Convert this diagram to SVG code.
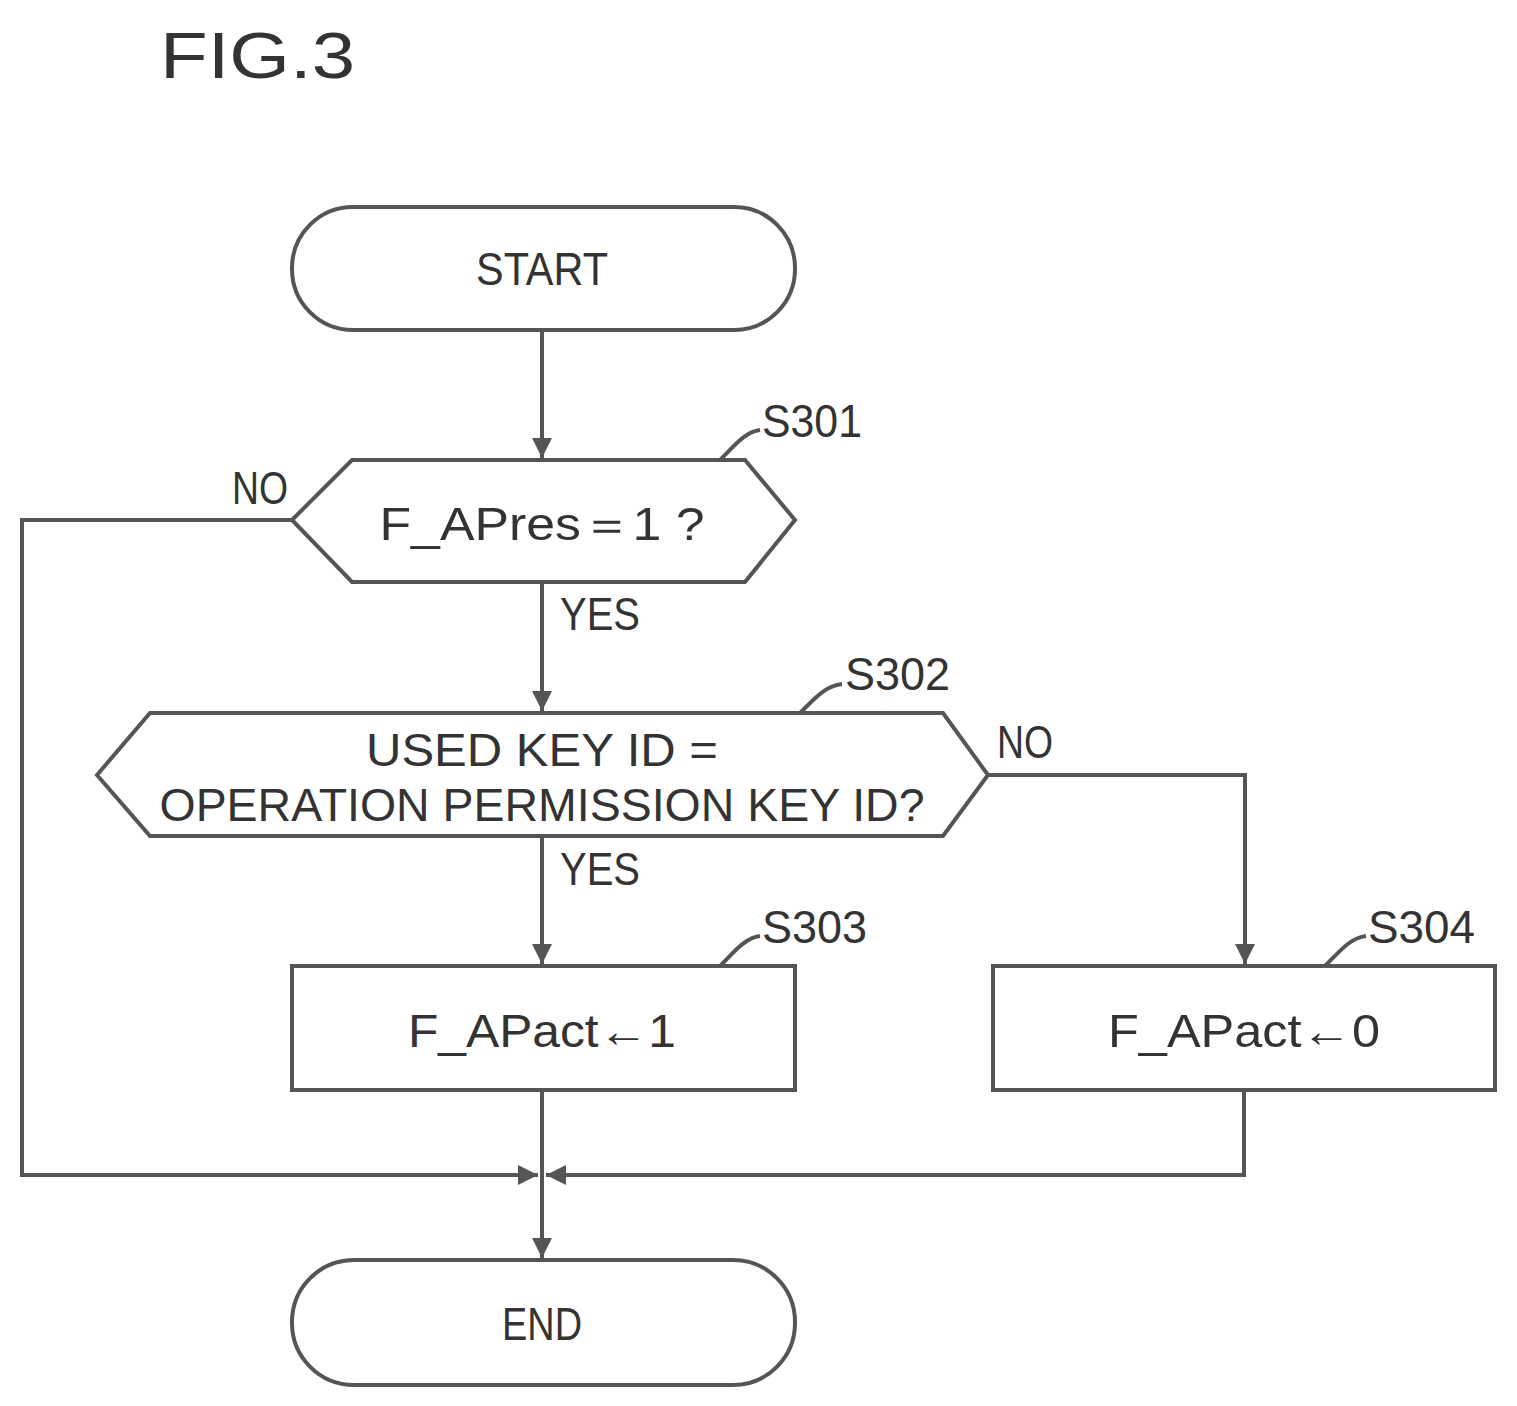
<svg xmlns="http://www.w3.org/2000/svg" width="1517" height="1406" viewBox="0 0 1517 1406">
<style>
.s{fill:#fff;stroke:#555;stroke-width:4}
.c{fill:none;stroke:#555;stroke-width:4}
text{font-family:"Liberation Sans",Arial,sans-serif;font-size:46px;fill:#333}
.m{text-anchor:middle}
</style>
<defs>
<marker id="a" viewBox="0 0 10 10" refX="10" refY="5" markerWidth="5" markerHeight="5" orient="auto" markerUnits="strokeWidth"><path d="M0,0L10,5L0,10z" fill="#555"/></marker>
</defs>
<rect width="1517" height="1406" fill="#fff"/>
<text x="160" y="78" style="font-size:64px" textLength="195" lengthAdjust="spacingAndGlyphs">FIG.3</text>
<g id="connectors">
<path class="c" d="M542,330V458" marker-end="url(#a)"/>
<path class="c" d="M542,582V711" marker-end="url(#a)"/>
<path class="c" d="M542,836V964" marker-end="url(#a)"/>
<path class="c" d="M988,775H1245V964" marker-end="url(#a)"/>
<path class="c" d="M292,520H22V1175H538" marker-end="url(#a)"/>
<path class="c" d="M1244,1090V1175H546" marker-end="url(#a)"/>
<path class="c" d="M542,1090V1258" marker-end="url(#a)"/>
<path class="c" d="M720,460C735,445 745,432 760,430"/>
<path class="c" d="M800,713C815,698 825,686 842,684"/>
<path class="c" d="M720,966C735,951 745,938 760,936"/>
<path class="c" d="M1325,966C1340,951 1350,938 1366,936"/>
</g>
<g id="start"><rect class="s" x="292" y="207" width="503" height="123" rx="61"/><text class="m" x="542" y="285" textLength="132" lengthAdjust="spacingAndGlyphs">START</text></g>
<g id="s301"><polygon class="s" points="292,520 352,460 745,460 795,520 745,582 352,582"/><text class="m" x="542" y="540" textLength="325" lengthAdjust="spacingAndGlyphs">F_APres＝1 ?</text>
<text x="762" y="437" textLength="100" lengthAdjust="spacingAndGlyphs">S301</text></g>
<text x="232" y="504" textLength="56" lengthAdjust="spacingAndGlyphs">NO</text>
<text x="560" y="630" textLength="80" lengthAdjust="spacingAndGlyphs">YES</text>
<g id="s302"><polygon class="s" points="97,775 150,713 943,713 988,775 943,836 150,836"/>
<text class="m" x="542" y="766" textLength="352" lengthAdjust="spacingAndGlyphs">USED KEY ID =</text>
<text class="m" x="542" y="821" textLength="765" lengthAdjust="spacingAndGlyphs">OPERATION PERMISSION KEY ID?</text>
<text x="845" y="690" textLength="105" lengthAdjust="spacingAndGlyphs">S302</text></g>
<text x="997" y="758" textLength="56" lengthAdjust="spacingAndGlyphs">NO</text>
<text x="560" y="885" textLength="80" lengthAdjust="spacingAndGlyphs">YES</text>
<g id="s303"><rect class="s" x="292" y="966" width="503" height="124"/><text class="m" x="542" y="1047" textLength="268" lengthAdjust="spacingAndGlyphs">F_APact←1</text>
<text x="762" y="943" textLength="105" lengthAdjust="spacingAndGlyphs">S303</text></g>
<g id="s304"><rect class="s" x="993" y="966" width="502" height="124"/><text class="m" x="1244" y="1047" textLength="272" lengthAdjust="spacingAndGlyphs">F_APact←0</text>
<text x="1368" y="943" textLength="107" lengthAdjust="spacingAndGlyphs">S304</text></g>
<g id="end"><rect class="s" x="292" y="1260" width="503" height="125" rx="62"/><text class="m" x="542" y="1340" textLength="80" lengthAdjust="spacingAndGlyphs">END</text></g>
</svg>
